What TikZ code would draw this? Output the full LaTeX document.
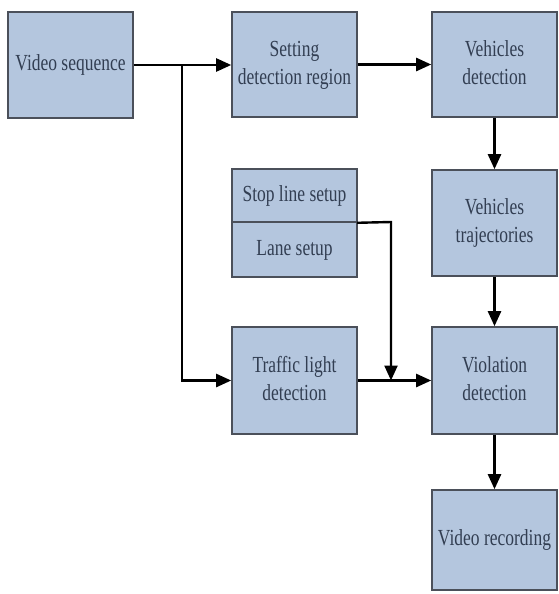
\documentclass[tikz,border=0pt]{standalone}
\usepackage{fontspec}
\setmainfont{Liberation Serif}
\usetikzlibrary{arrows.meta}
\definecolor{boxfill}{RGB}{180,198,222}
\definecolor{boxline}{RGB}{75,80,90}
\definecolor{boxtext}{RGB}{50,62,82}
\newcommand{\sqtext}[1]{\scalebox{0.76}[1]{\begin{tabular}{@{}c@{}}#1\end{tabular}}}
\begin{document}
\begin{tikzpicture}[x=1pt,y=-1pt,
  blk/.style={draw=boxline,fill=boxfill,line width=1.6pt,minimum width=125pt,inner sep=0pt,
    text=boxtext,font=\fontsize{23}{28}\selectfont},
  arr/.style={line width=2.4pt,line join=miter,-{Triangle[length=15pt,width=13pt]}}]
\useasboundingbox (0,0) rectangle (558,594);
\node[blk,minimum height=106pt] (vs) at (70.5,65) {\sqtext{Video sequence}};
\node[blk,minimum height=105pt] (sd) at (294.5,64.5) {\sqtext{Setting\\detection region}};
\node[blk,minimum height=105pt] (vd) at (494.5,64.5) {\sqtext{Vehicles\\detection}};
\node[blk,minimum height=106pt] (vt) at (494.5,223) {\sqtext{Vehicles\\trajectories}};
\node[blk,minimum height=53pt] (sl) at (294.5,195.5) {\sqtext{Stop line setup}};
\node[blk,minimum height=55pt] (ls) at (294.5,249.5) {\sqtext{Lane setup}};
\node[blk,minimum height=107pt] (tl) at (294.5,380.5) {\sqtext{Traffic light\\detection}};
\node[blk,minimum height=107pt] (vio) at (494.5,380.5) {\sqtext{Violation\\detection}};
\node[blk,minimum height=100pt] (rec) at (494.5,540) {\sqtext{Video recording}};
\coordinate (j1) at (182,65);
\coordinate (j2) at (391,222);
\coordinate (j3) at (391,380.5);
\draw[arr] (vs.east) -- (sd.west |- vs.east);
\draw[arr] (j1) |- (tl.west);
\draw[arr] (sd.east) -- (vd.west);
\draw[arr] (vd.south) -- (vt.north);
\draw[arr] ([xshift=-0.8pt]sl.south east) -- (j2) -- (j3);
\draw[arr] (tl.east) -- (vio.west);
\draw[arr] (vt.south) -- (vio.north);
\draw[arr] (vio.south) -- (rec.north);
\end{tikzpicture}
\end{document}
